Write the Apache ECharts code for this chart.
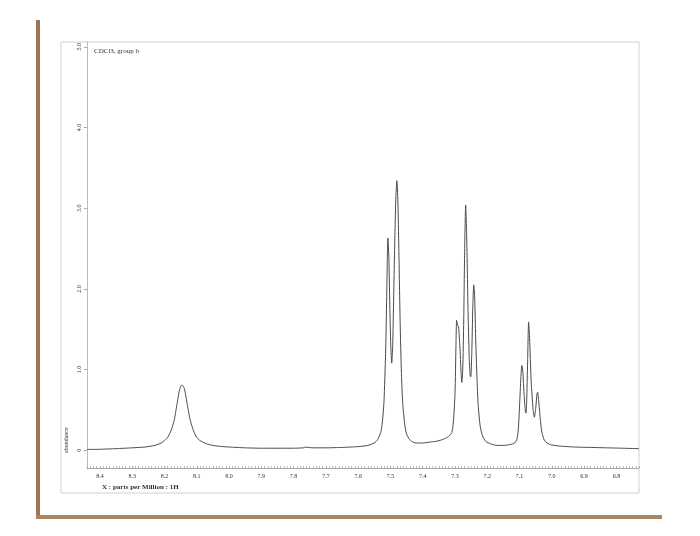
<!DOCTYPE html>
<html>
<head>
<meta charset="utf-8">
<script src="https://cdn.jsdelivr.net/npm/echarts@6/dist/echarts.min.js"></script>
<style>
html,body{margin:0;padding:0;background:#fff;}
#c{width:700px;height:536px;}
</style>
</head>
<body>
<div id="c"></div>
<script>
// Chemical shift (ppm) of each traced point and the abundance read at that point
const shiftPpm = [
  8.44, 8.40, 8.35, 8.30, 8.26, 8.23, 8.21, 8.20, 8.19, 8.18, 8.17, 8.165, 8.16, 8.155, 8.15, 8.146,
  8.14, 8.135, 8.13, 8.125, 8.12, 8.11, 8.10, 8.09, 8.07, 8.05, 8.02, 8.00, 7.95, 7.90, 7.85, 7.80,
  7.77, 7.762, 7.755, 7.74, 7.70, 7.65, 7.60, 7.57, 7.55, 7.54, 7.53, 7.525, 7.52, 7.515, 7.512, 7.51,
  7.508, 7.505, 7.502, 7.499, 7.496, 7.493, 7.49, 7.486, 7.483, 7.48, 7.477, 7.474, 7.47, 7.466, 7.462,
  7.455, 7.45, 7.44, 7.43, 7.42, 7.40, 7.38, 7.36, 7.34, 7.32, 7.31, 7.305, 7.30, 7.297, 7.295, 7.292,
  7.289, 7.285, 7.281, 7.279, 7.276, 7.273, 7.27, 7.267, 7.264, 7.26, 7.256, 7.253, 7.251, 7.248, 7.245,
  7.242, 7.239, 7.236, 7.232, 7.228, 7.222, 7.215, 7.205, 7.19, 7.17, 7.15, 7.13, 7.115, 7.108, 7.104,
  7.10, 7.096, 7.093, 7.09, 7.086, 7.082, 7.080, 7.078, 7.075, 7.072, 7.069, 7.064, 7.058, 7.054, 7.05,
  7.046, 7.044, 7.041, 7.036, 7.032, 7.025, 7.015, 7.00, 6.97, 6.93, 6.88, 6.83, 6.78, 6.73
];
const abundance = [
  0.01, 0.012, 0.02, 0.03, 0.04, 0.06, 0.09, 0.12, 0.16, 0.24, 0.37, 0.48, 0.60, 0.72, 0.79, 0.81,
  0.78, 0.70, 0.58, 0.47, 0.37, 0.24, 0.16, 0.12, 0.08, 0.06, 0.045, 0.04, 0.03, 0.025, 0.025, 0.025,
  0.03, 0.04, 0.035, 0.03, 0.03, 0.035, 0.045, 0.06, 0.09, 0.13, 0.22, 0.35, 0.60, 1.20, 1.80, 2.30,
  2.63, 2.40, 1.80, 1.30, 1.08, 1.30, 1.90, 2.70, 3.15, 3.34, 3.10, 2.50, 1.60, 0.95, 0.58,
  0.30, 0.20, 0.13, 0.10, 0.09, 0.09, 0.10, 0.11, 0.13, 0.17, 0.22, 0.35, 0.70, 1.30, 1.61, 1.55,
  1.53, 1.30, 0.95, 0.84, 1.00, 1.60, 2.50, 3.04, 2.70, 1.80, 1.15, 0.92, 0.91, 1.20, 1.75,
  2.05, 1.90, 1.40, 0.90, 0.55, 0.30, 0.18, 0.11, 0.08, 0.06, 0.06, 0.07, 0.09, 0.14, 0.25,
  0.55, 0.90, 1.05, 0.98, 0.70, 0.48, 0.46, 0.60, 1.10, 1.59, 1.40, 0.85, 0.50, 0.41, 0.52,
  0.70, 0.72, 0.62, 0.40, 0.25, 0.14, 0.09, 0.065, 0.05, 0.04, 0.035, 0.03, 0.025, 0.02
];
const titleText = 'CDCl3, group b';
const xAxisTitle = 'X : parts per Million : 1H';
const yAxisTitle = 'abundance';

const serif = '"Liberation Serif", "DejaVu Serif", serif';
const chart = echarts.init(document.getElementById('c'), null, {renderer: 'canvas'});
chart.setOption({
  animation: false,
  backgroundColor: '#ffffff',
  title: {
    text: titleText, left: 89, top: 43,
    textStyle: {fontFamily: serif, fontSize: 7, fontWeight: 'normal', color: '#333'}
  },
  grid: {left: 87, right: 61, top: 42, bottom: 68},
  xAxis: {
    type: 'value', inverse: true, min: 6.73, max: 8.44, splitNumber: 17,
    axisLine: {show: true, onZero: false, lineStyle: {color: '#aaa', width: 1}},
    axisTick: {show: true, length: 2, inside: true, lineStyle: {color: '#aaa'}},
    minorTick: {show: true, splitNumber: 10, length: 2, lineStyle: {color: '#bbb'}},
    splitLine: {show: false},
    axisLabel: {
      showMinLabel: false, showMaxLabel: false, margin: 5,
      fontFamily: serif, fontSize: 6, color: '#333',
      formatter: v => v.toFixed(1)
    }
  },
  yAxis: {
    type: 'value', min: -0.22, max: 5.06, splitNumber: 5,
    axisLine: {show: true, onZero: false, lineStyle: {color: '#bbb', width: 1}},
    axisTick: {show: true, length: 3, lineStyle: {color: '#aaa'}},
    splitLine: {show: false},
    axisLabel: {
      showMinLabel: false, showMaxLabel: false, rotate: 90, margin: 5,
      fontFamily: serif, fontSize: 6, color: '#333',
      formatter: v => (Math.abs(v) < 1e-9 ? '0' : v.toFixed(1))
    }
  },
  series: [{
    type: 'line', showSymbol: false, smooth: 0.2,
    lineStyle: {color: '#4a4a4a', width: 1},
    data: shiftPpm.map((x, i) => [x, abundance[i]])
  }],
  graphic: [
    {type: 'rect', silent: true, shape: {x: 61, y: 42, width: 578, height: 451},
     style: {fill: null, stroke: '#d0d0d0', lineWidth: 1}},
    {type: 'rect', silent: true, shape: {x: 36, y: 20, width: 4, height: 498},
     style: {fill: '#9c7456'}},
    {type: 'rect', silent: true, shape: {x: 36, y: 515, width: 626, height: 4},
     style: {fill: '#a98563'}},
    {type: 'text', left: 102, top: 484,
     style: {text: xAxisTitle, fontFamily: serif, fontSize: 7, fontWeight: 'bold', fill: '#333'}},
    {type: 'text', x: 63, y: 453, rotation: Math.PI / 2,
     style: {text: yAxisTitle, fontFamily: serif, fontSize: 6, fill: '#333'}}
  ]
});
</script>
</body>
</html>
